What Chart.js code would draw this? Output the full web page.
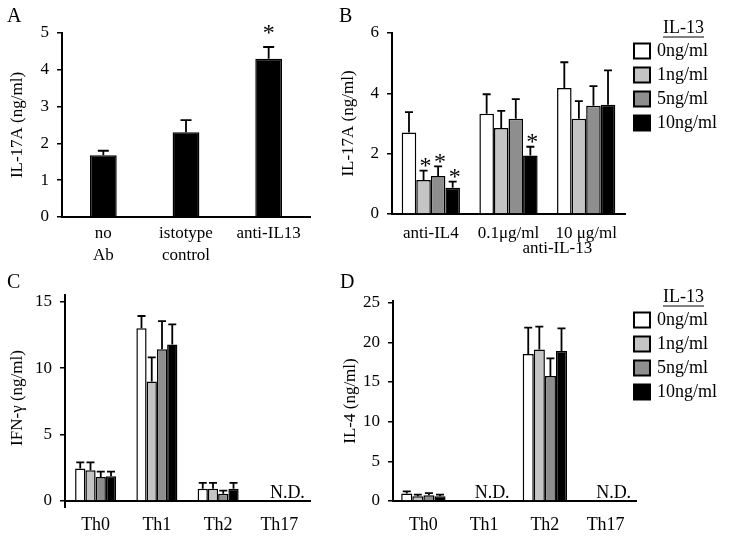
<!DOCTYPE html>
<html><head><meta charset="utf-8">
<script src="https://cdn.jsdelivr.net/npm/chart.js@4.4.1/dist/chart.umd.min.js"></script>
<style>
html,body{margin:0;padding:0;background:#fff;}
#wrap{position:relative;width:729px;height:537px;overflow:hidden;background:#fff;}
canvas{position:absolute;left:0;top:0;}
</style></head><body>
<div id="wrap">
<canvas id="cA" width="729" height="537"></canvas>
<canvas id="cB" width="729" height="537"></canvas>
<canvas id="cC" width="729" height="537"></canvas>
<canvas id="cD" width="729" height="537"></canvas>
</div>
<script>
const FONT = '"Liberation Serif", "Times New Roman", "DejaVu Serif", serif';

// ---------- DATA ----------
// Panel A
const catsA = [["no", "Ab"], ["istotype", "control"], "anti-IL13"];
const valsA = [1.68, 2.3, 4.3];
const errA  = [1.8, 2.63, 4.62];
const sigA  = [false, false, true];

// Shared series (IL-13 dose)
const legendTitle = "IL-13";
const seriesNames = ["0ng/ml", "1ng/ml", "5ng/ml", "10ng/ml"];

// Panel B
const catsB = ["anti-IL4", "0.1μg/ml", "10 μg/ml"];
const groupLabelB = "anti-IL-13";
const valsB0 = [2.7, 3.32, 4.18];
const valsB1 = [1.13, 2.85, 3.16];
const valsB5 = [1.26, 3.16, 3.59];
const valsB10 = [0.87, 1.94, 3.62];
const errB0 = [3.38, 3.97, 5.03];
const errB1 = [1.44, 3.42, 3.74];
const errB5 = [1.58, 3.81, 4.24];
const errB10 = [1.07, 2.23, 4.76];
const sigB0 = [false, false, false];
const sigB1 = [true, false, false];
const sigB5 = [true, false, false];
const sigB10 = [true, true, false];

// Panel C (IFN-γ), null = not detected
const catsCD = ["Th0", "Th1", "Th2", "Th17"];
const valsC0 = [2.44, 12.99, 0.93, null];
const valsC1 = [2.31, 9.0, 0.93, null];
const valsC5 = [1.81, 11.41, 0.55, null];
const valsC10 = [1.86, 11.78, 0.93, null];
const errC0 = [2.91, 13.92, 1.36, null];
const errC1 = [2.91, 10.8, 1.36, null];
const errC5 = [2.21, 13.54, 0.78, null];
const errC10 = [2.21, 13.29, 1.36, null];

// Panel D (IL-4)
const valsD0 = [0.93, null, 18.52, null];
const valsD1 = [0.59, null, 19.1, null];
const valsD5 = [0.72, null, 15.74, null];
const valsD10 = [0.59, null, 18.9, null];
const errD0 = [1.22, null, 21.84, null];
const errD1 = [0.8, null, 21.97, null];
const errD5 = [1.0, null, 17.97, null];
const errD10 = [0.8, null, 21.76, null];

const ndText = "N.D.";

// ---------- STYLE ----------
const fills = ["#ffffff", "#c4c4c4", "#8e8e8e", "#000000"];

Chart.defaults.color = '#000';
Chart.defaults.font.family = FONT;

const annot = {
  id: 'annot',
  afterDatasetsDraw(chart, args, o) {
    const ctx = chart.ctx, ys = chart.scales.y, xs = chart.scales.x;
    ctx.save();
    chart.data.datasets.forEach((ds, i) => {
      const meta = chart.getDatasetMeta(i);
      meta.data.forEach((bar, j) => {
        const v = ds.data[j];
        if (v == null) return;
        let top = bar.y;
        const e = ds.errTop ? ds.errTop[j] : null;
        if (e != null) {
          const ye = ys.getPixelForValue(e);
          ctx.strokeStyle = '#000';
          ctx.lineWidth = 1.8;
          ctx.beginPath();
          ctx.moveTo(bar.x, bar.y);
          ctx.lineTo(bar.x, ye);
          ctx.moveTo(bar.x - o.cap / 2, ye);
          ctx.lineTo(bar.x + o.cap / 2, ye);
          ctx.stroke();
          top = ye;
        }
        if (ds.sig && ds.sig[j]) {
          ctx.fillStyle = '#000';
          ctx.font = o.starSize + 'px ' + FONT;
          ctx.textAlign = 'center';
          ctx.textBaseline = 'alphabetic';
          ctx.fillText('*', bar.x + (o.starDx || 0), top - o.starGap + o.starSize * 0.47);
        }
      });
    });
    // N.D. labels for undetected categories
    chart.data.labels.forEach((lab, j) => {
      const allNull = chart.data.datasets.every(ds => ds.data[j] == null);
      if (allNull) {
        ctx.fillStyle = '#000';
        ctx.font = '18px ' + FONT;
        ctx.textAlign = 'center';
        ctx.textBaseline = 'alphabetic';
        ctx.fillText(ndText, xs.getPixelForValue(j) + 8, ys.getPixelForValue(0) - 3);
      }
    });
    // y-axis line running slightly past the x-axis
    if (o.yExt) {
      const a = chart.chartArea;
      ctx.strokeStyle = '#000';
      ctx.lineWidth = 2;
      ctx.beginPath();
      ctx.moveTo(a.left, a.bottom);
      ctx.lineTo(a.left, a.bottom + o.yExt);
      ctx.stroke();
    }
    // panel letter
    if (o.letter) {
      ctx.fillStyle = '#000';
      ctx.font = '20px ' + FONT;
      ctx.textAlign = 'left';
      ctx.textBaseline = 'alphabetic';
      ctx.fillText(o.letter[0], o.letter[1], o.letter[2]);
    }
    // group label under categories 1 and 2
    if (o.groupLabel) {
      ctx.fillStyle = '#000';
      ctx.font = '17px ' + FONT;
      ctx.textAlign = 'center';
      ctx.textBaseline = 'middle';
      const gx = (xs.getPixelForValue(1) + xs.getPixelForValue(2)) / 2 + 10;
      ctx.fillText(o.groupLabel, gx, o.groupY);
    }
    // legend
    if (o.legend) {
      const L = o.legend;
      ctx.fillStyle = '#000';
      ctx.font = '18px ' + FONT;
      ctx.textAlign = 'left';
      ctx.textBaseline = 'middle';
      const tw = ctx.measureText(legendTitle).width;
      const tx = L.x + 29;
      ctx.fillText(legendTitle, tx, L.y);
      ctx.lineWidth = 1.2;
      ctx.strokeStyle = '#000';
      ctx.beginPath();
      ctx.moveTo(tx, L.y + 9);
      ctx.lineTo(tx + tw, L.y + 9);
      ctx.stroke();
      chart.data.datasets.forEach((ds, i) => {
        const cy = L.y + 23 + 24 * i;
        ctx.fillStyle = ds.backgroundColor;
        ctx.fillRect(L.x, cy - 7.5, 16, 15);
        ctx.lineWidth = 2;
        ctx.strokeStyle = '#000';
        ctx.strokeRect(L.x, cy - 7.5, 16, 15);
        ctx.fillStyle = '#000';
        ctx.fillText(ds.label, L.x + 23, cy);
      });
    }
    ctx.restore();
  }
};

function makeChart(id, cfg) {
  const yScale = {
    min: 0, max: cfg.max,
    ticks: { stepSize: cfg.step, includeBounds: false, padding: 8, font: { size: 17 }, color: '#000' },
    grid: { display: true, drawOnChartArea: false, drawTicks: true, tickLength: 5, color: '#000', lineWidth: 1.5 },
    border: { display: true, color: '#000', width: 2 },
    title: { display: true, text: cfg.yTitle, font: { size: 17 }, padding: 0, color: '#000' },
    afterFit(s) { s.width = cfg.yWidth; }
  };
  const xScale = {
    ticks: { padding: cfg.xPad, font: { size: cfg.xFont, lineHeight: 1.3 }, maxRotation: 0, minRotation: 0, autoSkip: false, color: '#000' },
    grid: { display: false, drawTicks: false },
    border: { display: true, color: '#000', width: 2 },
    afterFit(s) { s.height = cfg.xHeight; }
  };
  return new Chart(document.getElementById(id), {
    type: 'bar',
    data: { labels: cfg.labels, datasets: cfg.datasets },
    options: {
      responsive: false, animation: false, devicePixelRatio: 1,
      layout: { padding: cfg.pad },
      datasets: { bar: { categoryPercentage: cfg.catPct, barPercentage: cfg.barPct, borderColor: '#000', borderWidth: 1.5, borderSkipped: 'start' } },
      scales: { x: xScale, y: yScale },
      plugins: { legend: { display: false }, tooltip: { enabled: false }, annot: cfg.annot }
    },
    plugins: [annot]
  });
}

function dsSet(vals, errs, sigs) {
  return vals.map((v, i) => ({
    label: seriesNames[i], data: v, errTop: errs[i], sig: sigs ? sigs[i] : null,
    backgroundColor: fills[i]
  }));
}

// Panel A
makeChart('cA', {
  labels: catsA, max: 5, step: 1, yTitle: 'IL-17A (ng/ml)', yWidth: 55, xPad: 5, xFont: 17, xHeight: 55,
  pad: { left: 7, top: 33, right: 419, bottom: 265 },
  catPct: 0.36, barPct: 0.9,
  datasets: [{ label: 'A', data: valsA, errTop: errA, sig: sigA, backgroundColor: '#000' }],
  annot: { cap: 11, starSize: 24, starGap: 18, starDx: 0, letter: ['A', 7, 22] }
});

// Panel B
makeChart('cB', {
  labels: catsB, max: 6, step: 2, yTitle: 'IL-17A (ng/ml)', yWidth: 54, xPad: 8, xFont: 17, xHeight: 30,
  pad: { left: 338, top: 33, right: 104, bottom: 293 },
  catPct: 0.75, barPct: 1.0,
  datasets: dsSet([valsB0, valsB1, valsB5, valsB10], [errB0, errB1, errB5, errB10], [sigB0, sigB1, sigB5, sigB10]),
  annot: { cap: 8, starSize: 24, starGap: 9, starDx: 2, letter: ['B', 339, 22], groupLabel: groupLabelB, groupY: 249, legend: { x: 634, y: 28 } }
});

// Panel C
makeChart('cC', {
  labels: catsCD, max: 15.5, step: 5, yTitle: 'IFN-γ (ng/ml)', yWidth: 58, xPad: 13, xFont: 18, xHeight: 35,
  pad: { left: 7, top: 295, right: 419, bottom: 1 },
  catPct: 0.67, barPct: 1.0,
  datasets: dsSet([valsC0, valsC1, valsC5, valsC10], [errC0, errC1, errC5, errC10], null),
  annot: { cap: 8, starSize: 24, starGap: 9, letter: ['C', 7, 288], yExt: 7 }
});

// Panel D
makeChart('cD', {
  labels: catsCD, max: 25.2, step: 5, yTitle: 'IL-4 (ng/ml)', yWidth: 53, xPad: 13, xFont: 18, xHeight: 35,
  pad: { left: 340, top: 301, right: 93, bottom: 1 },
  catPct: 0.73, barPct: 1.0,
  datasets: dsSet([valsD0, valsD1, valsD5, valsD10], [errD0, errD1, errD5, errD10], null),
  annot: { cap: 8, starSize: 24, starGap: 9, letter: ['D', 340, 288], legend: { x: 634, y: 297 } }
});
</script>
</body></html>
